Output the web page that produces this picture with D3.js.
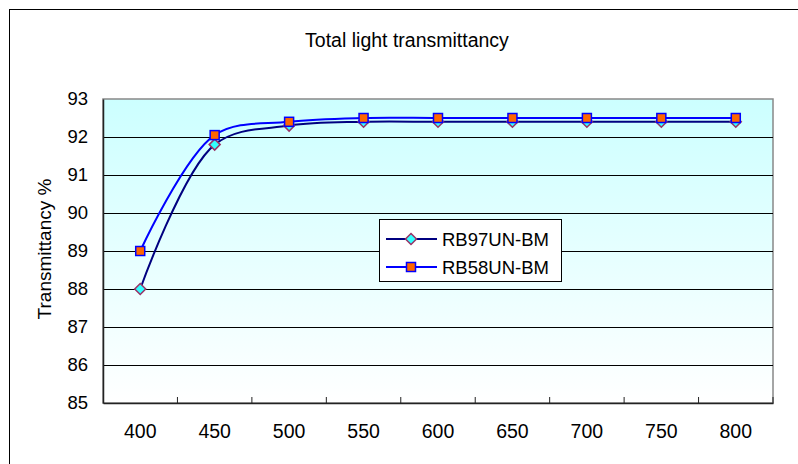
<!DOCTYPE html>
<html><head><meta charset="utf-8">
<script src="https://cdn.jsdelivr.net/npm/d3@7"></script>
<style>body{margin:0;background:#fff}svg{display:block}text{font-family:"Liberation Sans",Arial,sans-serif;fill:#000}</style>
</head><body><svg id="c" width="798" height="464"></svg>
<script>
const categories = ["400","450","500","550","600","650","700","750","800"];
const seriesNames = ["RB97UN-BM","RB58UN-BM"];
const rb97 = [88, 91.8, 92.3, 92.4, 92.4, 92.4, 92.4, 92.4, 92.4];
const rb58 = [89, 92.05, 92.4, 92.5, 92.5, 92.5, 92.5, 92.5, 92.5];
const yTicks = [85,86,87,88,89,90,91,92,93];
const title = "Total light transmittancy";
const yTitle = "Transmittancy %";

const svg = d3.select("#c");
const L=103,T=99,R=773,B=403;
const x = d3.scaleBand().domain(categories).range([L,R]);
const y = d3.scaleLinear().domain([85,93]).range([B,T]);

svg.append("rect").attr("x",9.5).attr("y",9.5).attr("width",800).attr("height",470).attr("fill","#fff").attr("stroke","#000");

const defs = svg.append("defs");
const g = defs.append("linearGradient").attr("id","bg").attr("x1",0).attr("y1",0).attr("x2",0).attr("y2",1);
g.append("stop").attr("offset","0%").attr("stop-color","#ccffff");
g.append("stop").attr("offset","100%").attr("stop-color","#ffffff");
svg.append("rect").attr("x",L).attr("y",T).attr("width",R-L).attr("height",B-T).attr("fill","url(#bg)").attr("stroke","#888").attr("stroke-width",1.5);

// gridlines
svg.append("g").selectAll("line").data(yTicks.filter(d=>d>85&&d<93)).join("line")
 .attr("x1",L).attr("x2",R).attr("y1",d=>Math.round(y(d))+0.5).attr("y2",d=>Math.round(y(d))+0.5).attr("stroke","#000").attr("stroke-width",1);

// axes
const yAxis = d3.axisLeft(y).tickValues(yTicks).tickSize(0).tickPadding(15).tickFormat(d3.format("d"));
const ya = svg.append("g").attr("transform",`translate(${L},0)`).call(yAxis);
ya.select(".domain").attr("stroke","#222").attr("stroke-width",1.5);
ya.selectAll("text").attr("font-size",18.5);

const xAxis = d3.axisBottom(x).tickSize(0).tickPadding(25);
const xa = svg.append("g").attr("transform",`translate(0,${B})`).call(xAxis);
xa.select(".domain").attr("stroke","#222").attr("stroke-width",1.5);
xa.selectAll("text").attr("font-size",19.5).attr("dy","0.5em");
// boundary ticks pointing inward
const bounds = categories.map(c=>x(c)).concat([R]).slice(1);
svg.append("g").selectAll("line").data(bounds).join("line")
 .attr("x1",d=>d).attr("x2",d=>d).attr("y1",B).attr("y2",B-6).attr("stroke","#222").attr("stroke-width",1);

svg.append("text").attr("x",407).attr("y",46.5).attr("text-anchor","middle").attr("font-size",19.5).text(title);
svg.append("text").attr("transform","translate(51,249) rotate(-90)").attr("text-anchor","middle").attr("font-size",19).text(yTitle);

const cx = c=>x(c)+x.bandwidth()/2;
const line = d3.line().x((d,i)=>cx(categories[i])).y(d=>y(d)).curve(d3.curveCatmullRom.alpha(0.5));

svg.append("path").attr("d",line(rb97)).attr("fill","none").attr("stroke","#000080").attr("stroke-width",2);
svg.append("path").attr("d",line(rb58)).attr("fill","none").attr("stroke","#0000ff").attr("stroke-width",2);

function diamond(sel,px,py){
  sel.append("path").attr("d",`M${px},${py-5.5}L${px+5.5},${py}L${px},${py+5.5}L${px-5.5},${py}Z`).attr("fill","#33ffff").attr("stroke","#993366").attr("stroke-width",1.5);
}
function square(sel,px,py){
  sel.append("rect").attr("x",px-4.5).attr("y",py-4.5).attr("width",9).attr("height",9).attr("fill","#ff6600").attr("stroke","#0000ff").attr("stroke-width",1.5);
}
const m1 = svg.append("g"), m2 = svg.append("g");
rb97.forEach((v,i)=>diamond(m1,cx(categories[i]),y(v)));
rb58.forEach((v,i)=>square(m2,cx(categories[i]),y(v)));

// legend
const lg = svg.append("g");
lg.append("rect").attr("x",379.5).attr("y",219.5).attr("width",182).attr("height",62).attr("fill","#fff").attr("stroke","#000");
const rows=[239,267];
seriesNames.forEach((n,i)=>{
  const yy=rows[i];
  lg.append("line").attr("x1",386).attr("x2",437).attr("y1",yy).attr("y2",yy).attr("stroke",i?"#0000ff":"#000080").attr("stroke-width",2);
  if(i) square(lg,411,yy); else diamond(lg,411,yy);
  lg.append("text").attr("x",442).attr("y",yy+6.5).attr("font-size",18.5).text(n);
});
</script></body></html>
